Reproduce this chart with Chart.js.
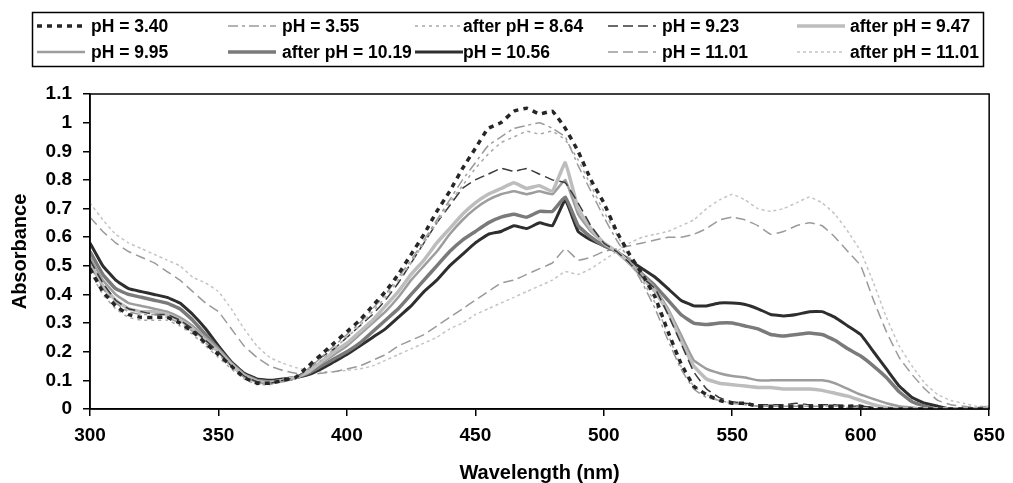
<!DOCTYPE html>
<html><head><meta charset="utf-8">
<script src="https://cdn.jsdelivr.net/npm/chart.js@4.4.1/dist/chart.umd.min.js"></script>
<style>html,body{margin:0;padding:0;background:#fff;} canvas{display:block;}</style>
</head><body>
<canvas id="c" width="1013" height="483"></canvas>
<script>
// ---- data ----
const wavelengths = [300,305,310,315,320,325,330,335,340,345,350,355,360,365,370,375,380,385,390,395,400,405,410,415,420,425,430,435,440,445,450,455,460,465,470,475,480,485,490,495,500,505,510,515,520,525,530,535,540,545,550,555,560,565,570,575,580,585,590,595,600,605,610,615,620,625,630,635,640,645,650];

const ph340 = [0.49,0.41,0.36,0.33,0.32,0.32,0.32,0.30,0.27,0.23,0.19,0.15,0.11,0.09,0.09,0.10,0.11,
 0.15,0.19,0.23,0.27,0.31,0.36,0.41,0.47,0.54,0.61,0.69,0.76,0.84,0.91,0.98,1.00,1.04,1.05,1.03,1.04,0.98,0.90,0.80,0.72,0.62,0.54,0.47,0.39,0.27,0.16,0.08,0.05,0.03,0.02,
 0.02,0.01,0.01,0.01,0.01,0.01,0.01,0.01,0.01,0.01,0,0,0,0,0,0,0,0,0,0];
const ph355 = [0.50,0.42,0.37,0.34,0.33,0.33,0.32,0.30,0.27,0.23,0.19,0.15,0.11,0.09,0.09,0.095,0.105,
 0.14,0.18,0.22,0.26,0.30,0.35,0.40,0.46,0.52,0.59,0.66,0.73,0.80,0.86,0.92,0.95,0.98,0.99,1.00,0.98,0.95,0.85,0.76,0.67,0.59,0.52,0.44,0.35,0.24,0.14,0.07,0.04,0.03,0.02,
 0.015,0.01,0.01,0.01,0.01,0.01,0.01,0.01,0.01,0.005,0,0,0,0,0,0,0,0,0,0];
const afterPh864 = [0.48,0.40,0.35,0.32,0.31,0.31,0.31,0.29,0.26,0.22,0.18,0.14,0.105,0.085,0.085,0.095,0.105,
 0.14,0.17,0.21,0.25,0.29,0.34,0.39,0.45,0.51,0.58,0.65,0.72,0.78,0.84,0.89,0.93,0.95,0.97,0.96,0.97,0.94,0.87,0.78,0.69,0.61,0.53,0.45,0.37,0.26,0.15,0.08,0.05,0.03,0.02,
 0.015,0.01,0.01,0.01,0.01,0.01,0.01,0.01,0.005,0.005,0,0,0,0,0,0,0,0,0,0];
const ph923 = [0.52,0.44,0.38,0.35,0.34,0.33,0.33,0.31,0.28,0.24,0.20,0.15,0.115,0.095,0.09,0.10,0.11,
 0.14,0.18,0.21,0.25,0.29,0.33,0.38,0.44,0.51,0.58,0.65,0.71,0.77,0.80,0.82,0.84,0.83,0.84,0.82,0.80,0.79,0.72,0.64,0.58,0.55,0.51,0.46,0.42,0.33,0.23,0.13,0.07,0.04,0.025,
 0.02,0.015,0.015,0.015,0.02,0.015,0.015,0.015,0.01,0.01,0.005,0,0,0,0,0,0,0,0,0];
const afterPh947 = [0.51,0.43,0.38,0.35,0.34,0.34,0.33,0.31,0.28,0.24,0.20,0.155,0.115,0.095,0.09,0.10,0.11,
 0.13,0.165,0.20,0.23,0.27,0.31,0.36,0.41,0.47,0.52,0.58,0.63,0.68,0.72,0.75,0.77,0.79,0.77,0.78,0.76,0.86,0.70,0.63,0.58,0.55,0.51,0.46,0.41,0.34,0.24,0.15,0.105,0.09,0.085,
 0.08,0.075,0.075,0.07,0.07,0.07,0.065,0.055,0.045,0.03,0.015,0.005,0,0,0,0,0,0,0,0];
const ph995 = [0.53,0.45,0.40,0.37,0.36,0.35,0.34,0.32,0.29,0.25,0.21,0.16,0.12,0.10,0.095,0.10,0.11,
 0.13,0.16,0.19,0.22,0.26,0.30,0.34,0.39,0.45,0.50,0.55,0.61,0.66,0.70,0.73,0.75,0.76,0.75,0.76,0.75,0.80,0.68,0.62,0.58,0.55,0.51,0.47,0.42,0.35,0.26,0.17,0.14,0.125,0.115,
 0.11,0.10,0.10,0.10,0.10,0.10,0.10,0.09,0.07,0.05,0.035,0.02,0.01,0.005,0,0,0,0,0,0];
const afterPh1019 = [0.55,0.47,0.42,0.40,0.39,0.38,0.37,0.35,0.31,0.26,0.21,0.16,0.12,0.10,0.095,0.10,0.11,
 0.125,0.15,0.175,0.20,0.23,0.27,0.31,0.35,0.40,0.45,0.50,0.55,0.59,0.62,0.65,0.67,0.68,0.67,0.69,0.69,0.74,0.64,0.60,0.57,0.55,0.51,0.47,0.43,0.38,0.33,0.30,0.295,0.30,0.30,
 0.29,0.28,0.26,0.255,0.26,0.265,0.26,0.24,0.21,0.185,0.15,0.11,0.06,0.025,0.01,0,0,0,0,0];
const ph1056 = [0.58,0.50,0.45,0.42,0.41,0.40,0.39,0.37,0.33,0.28,0.22,0.165,0.125,0.105,0.10,0.105,0.11,
 0.12,0.14,0.165,0.19,0.22,0.25,0.28,0.32,0.36,0.41,0.45,0.50,0.54,0.58,0.61,0.62,0.64,0.63,0.65,0.64,0.73,0.62,0.59,0.57,0.55,0.52,0.49,0.46,0.42,0.38,0.36,0.36,0.37,0.37,
 0.365,0.35,0.33,0.325,0.33,0.34,0.34,0.32,0.29,0.26,0.20,0.14,0.08,0.04,0.02,0.01,0,0,0,0];
const ph1101 = [0.67,0.62,0.58,0.55,0.53,0.51,0.48,0.45,0.41,0.37,0.34,0.28,0.22,0.18,0.15,0.135,0.125,
 0.12,0.125,0.13,0.14,0.15,0.17,0.19,0.22,0.24,0.26,0.29,0.32,0.35,0.38,0.41,0.44,0.45,0.47,0.49,0.51,0.56,0.52,0.53,0.55,0.56,0.57,0.58,0.59,0.60,0.60,0.61,0.63,0.66,0.67,
 0.66,0.64,0.61,0.62,0.64,0.65,0.64,0.60,0.55,0.50,0.38,0.27,0.18,0.12,0.07,0.03,0.015,0.01,0.005,0.01];
const afterPh1101 = [0.72,0.66,0.61,0.58,0.56,0.54,0.52,0.50,0.46,0.44,0.41,0.35,0.28,0.22,0.18,0.16,0.145,
 0.135,0.13,0.13,0.135,0.14,0.15,0.17,0.19,0.21,0.23,0.25,0.28,0.30,0.33,0.35,0.37,0.39,0.41,0.43,0.45,0.48,0.47,0.49,0.52,0.55,0.58,0.60,0.61,0.62,0.64,0.66,0.70,0.73,0.75,
 0.73,0.70,0.69,0.70,0.72,0.74,0.72,0.68,0.62,0.55,0.44,0.32,0.22,0.15,0.09,0.05,0.03,0.02,0.01,0.01];

const seriesLabels = ['pH = 3.40','pH = 3.55','after pH = 8.64','pH = 9.23','after pH = 9.47',
                      'pH = 9.95','after pH = 10.19','pH = 10.56','pH = 11.01','after pH = 11.01'];
const seriesValues = [ph340, ph355, afterPh864, ph923, afterPh947, ph995, afterPh1019, ph1056, ph1101, afterPh1101];
const xTickLabels = ['300','350','400','450','500','550','600','650'];
const yTickLabels = ['0','0.1','0.2','0.3','0.4','0.5','0.6','0.7','0.8','0.9','1','1.1'];

// ---- styles ----
const styles = [
  {color:'#262626', width:3.5, dash:[5,5]},
  {color:'#9a9a9a', width:1.5, dash:[10,4,3,4]},
  {color:'#a8a8a8', width:1.5, dash:[3,4]},
  {color:'#3a3a3a', width:1.5, dash:[10,5]},
  {color:'#bdbdbd', width:3.5, dash:[]},
  {color:'#9d9d9d', width:2.5, dash:[]},
  {color:'#7a7a7a', width:3.5, dash:[]},
  {color:'#2e2e2e', width:3, dash:[]},
  {color:'#9a9a9a', width:1.5, dash:[10,5]},
  {color:'#c4c4c4', width:1.5, dash:[3,3]}
];

const FONT = "'Liberation Sans', Arial, Helvetica, sans-serif";
Chart.defaults.font.family = FONT;
Chart.defaults.color = '#000';

const datasets = seriesValues.map((vals, i) => ({
  label: seriesLabels[i],
  data: wavelengths.map((w, j) => ({x: w, y: vals[j]})),
  borderColor: styles[i].color,
  borderWidth: styles[i].width,
  borderDash: styles[i].dash,
  pointRadius: 0,
  tension: 0.1,
  fill: false
}));

// legend grid positions (reference layout)
const legendCols = [{sx:37, tx:91},{sx:228, tx:282},{sx:415, tx:463},{sx:608, tx:662},{sx:797, tx:850}];
const legendRows = [26, 52];

const boxLegend = {
  id: 'boxLegend',
  afterDraw(chart) {
    const ctx = chart.ctx;
    ctx.save();
    ctx.strokeStyle = '#000';
    ctx.lineWidth = 1.5;
    ctx.setLineDash([]);
    ctx.strokeRect(32.5, 12.5, 951, 54);
    ctx.font = "bold 17.5px " + FONT;
    ctx.textBaseline = 'middle';
    ctx.fillStyle = '#000';
    chart.data.datasets.forEach((ds, i) => {
      const col = legendCols[i % 5], y = legendRows[Math.floor(i / 5)];
      ctx.save();
      ctx.strokeStyle = ds.borderColor;
      ctx.lineWidth = ds.borderWidth;
      ctx.setLineDash(ds.borderDash);
      ctx.beginPath();
      ctx.moveTo(col.sx, y); ctx.lineTo(col.sx + 48, y);
      ctx.stroke();
      ctx.restore();
      ctx.fillText(ds.label, col.tx, y + 1);
    });
    // plot frame
    const a = chart.chartArea;
    ctx.strokeRect(a.left, a.top, a.right - a.left, a.bottom - a.top);
    ctx.restore();
  }
};

new Chart(document.getElementById('c'), {
  type: 'line',
  data: { datasets },
  options: {
    responsive: false,
    animation: false,
    layout: { padding: { top: 94, right: 20, left: 0, bottom: 0 } },
    plugins: { legend: { display: false }, tooltip: { enabled: false } },
    scales: {
      x: {
        type: 'linear', min: 300, max: 650,
        afterFit(s) { s.height = 74; },
        ticks: {
          stepSize: 50, padding: 8,
          font: { size: 19, weight: 'bold' },
          callback: (v) => xTickLabels[Math.round((v - 300) / 50)] ?? ''
        },
        grid: { drawOnChartArea: false, drawTicks: true, tickLength: 7, color: '#000', lineWidth: 1.5 },
        border: { display: true, color: '#000', width: 1.5 },
        title: { display: true, text: 'Wavelength (nm)', font: { size: 20, weight: 'bold', lineHeight: 1 }, padding: { top: 0, bottom: 0 } }
      },
      y: {
        min: 0, max: 1.1,
        afterFit(s) { s.width = 90; },
        ticks: {
          stepSize: 0.1, padding: 11,
          font: { size: 19, weight: 'bold' },
          callback: (v) => yTickLabels[Math.round(v * 10)] ?? ''
        },
        grid: { drawOnChartArea: false, drawTicks: true, tickLength: 7, color: '#000', lineWidth: 1.5 },
        border: { display: true, color: '#000', width: 1.5 },
        title: { display: true, text: 'Absorbance', font: { size: 20, weight: 'bold', lineHeight: 1 }, padding: { top: 10, bottom: 0 } }
      }
    }
  },
  plugins: [boxLegend]
});
</script>
</body></html>
